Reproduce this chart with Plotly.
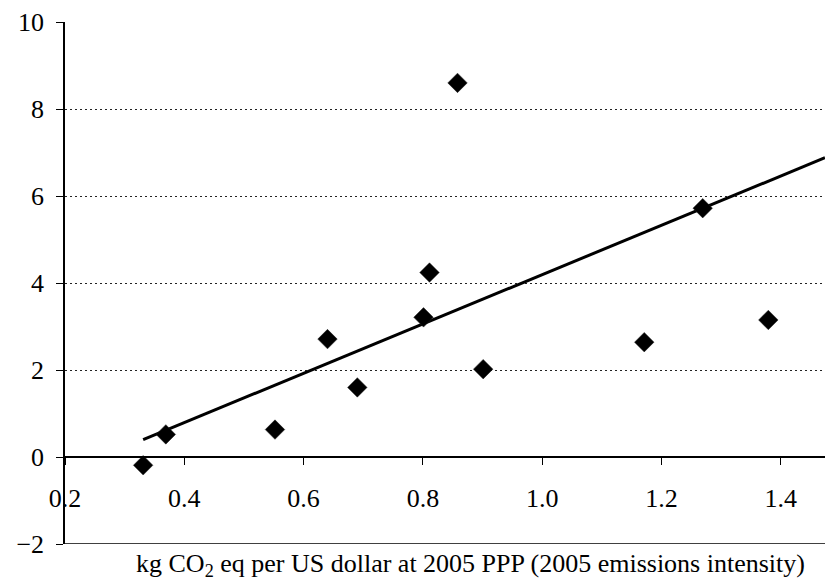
import plotly.graph_objects as go

# Data
intensity = [0.331, 0.369, 0.552, 0.640, 0.690, 0.801, 0.811, 0.858, 0.901, 1.171, 1.269, 1.379]
values = [-0.19, 0.52, 0.63, 2.71, 1.60, 3.21, 4.24, 8.60, 2.02, 2.64, 5.72, 3.15]
trend_x = [0.331, 1.474]
trend_y = [0.40, 6.88]
x_ticks = [0.2, 0.4, 0.6, 0.8, 1.0, 1.2, 1.4]
y_ticks = [-2, 0, 2, 4, 6, 8, 10]
x_title = "kg CO<sub>2</sub> eq per US dollar at 2005 PPP (2005 emissions intensity)"

FONT = "Liberation Serif"
tick_font = dict(family=FONT, size=26, color="black")

fig = go.Figure()
fig.add_trace(go.Scatter(
    x=trend_x, y=trend_y, mode="lines",
    line=dict(color="black", width=3), hoverinfo="skip", showlegend=False))
fig.add_trace(go.Scatter(
    x=intensity, y=values, mode="markers",
    marker=dict(symbol="diamond", size=15, color="black",
                line=dict(color="#222", width=0.5)),
    showlegend=False))

# bottom frame line at y = -2
fig.add_shape(type="line", xref="paper", yref="y", x0=0, x1=1, y0=-2, y1=-2,
              line=dict(color="black", width=1.5))

fig.add_annotation(text=x_title, xref="paper", yref="paper", x=0.534, y=-0.040,
                   xanchor="center", yanchor="middle", showarrow=False,
                   font=dict(family=FONT, size=26, color="black"))

fig.update_layout(
    width=825, height=581,
    margin=dict(l=65, r=0, t=22, b=37),
    paper_bgcolor="white", plot_bgcolor="white",
    font=dict(family=FONT, size=26, color="black"),
    xaxis=dict(range=[0.2, 1.474], tickvals=x_ticks, tickformat=".1f",
               tickfont=tick_font,
               anchor="free", position=1/6,
               showline=True, linecolor="black", linewidth=1.5,
               ticks="outside", ticklen=7, tickcolor="black", tickwidth=1,
               ticklabelstandoff=11,
               showgrid=False, zeroline=False),
    yaxis=dict(range=[-2, 10], tickvals=y_ticks, tickfont=tick_font,
               showline=True, linecolor="black", linewidth=1.5,
               ticks="outside", ticklen=7, tickcolor="black", tickwidth=1,
               ticklabelstandoff=7,
               showgrid=True, gridcolor="#222", griddash="2px,3px", gridwidth=1.2,
               zeroline=False),
)

fig.write_html("out.html")
